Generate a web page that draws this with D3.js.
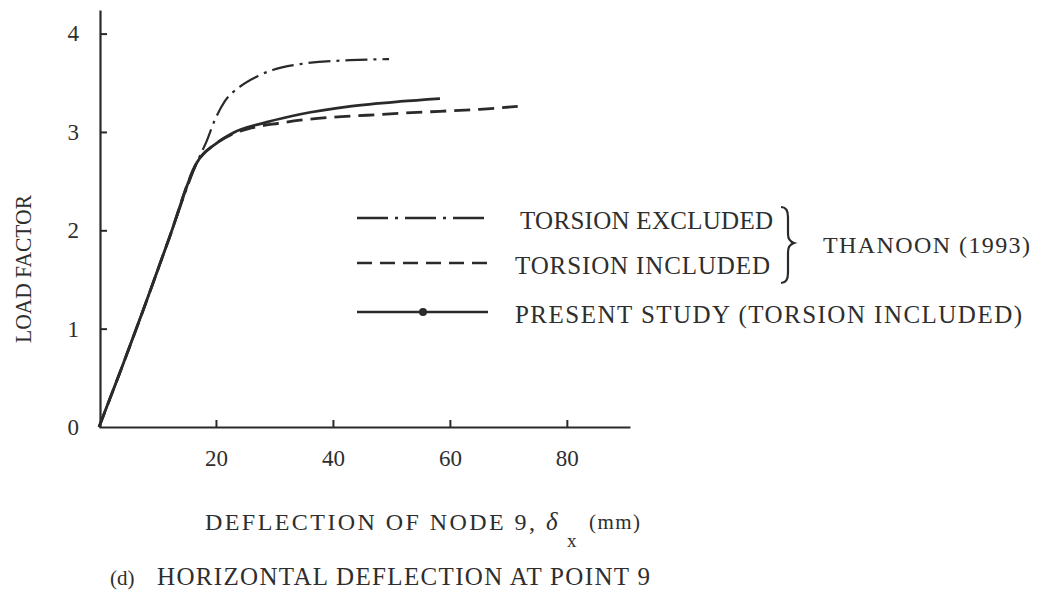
<!DOCTYPE html>
<html>
<head>
<meta charset="utf-8">
<script src="https://cdn.jsdelivr.net/npm/d3@7"></script>
<style>
  body { margin: 0; background: #fff; }
  svg text { font-family: "Liberation Serif", "DejaVu Serif", serif; fill: #2e2e2e; }
</style>
</head>
<body>
<div id="chart"></div>
<script>
// Datos (deflexión en mm, factor de carga)
const xTicks = [20, 40, 60, 80];
const yTicks = [0, 1, 2, 3, 4];

const torsionExcluded = [
  [0, 0], [4, 0.62], [8, 1.26], [12, 1.92], [16.75, 2.69], [18.5, 2.92], [19.8, 3.12],
  [21.5, 3.31], [24.1, 3.46], [27.2, 3.57], [29.7, 3.63], [34.4, 3.69], [42.9, 3.73], [49.6, 3.74]
];
const torsionIncluded = [
  [0, 0], [4, 0.62], [8, 1.26], [12, 1.92], [16.75, 2.69], [20.2, 2.89], [22.9, 2.98],
  [26, 3.04], [30.9, 3.09], [34.4, 3.12], [40, 3.15], [45.8, 3.17], [51.5, 3.19],
  [58.3, 3.21], [65.1, 3.23], [71.6, 3.26]
];
const presentStudy = [
  [0, 0], [4, 0.62], [8, 1.26], [12, 1.92], [16.75, 2.69], [20.2, 2.89], [22.9, 2.99],
  [28.7, 3.1], [34.4, 3.18], [42.9, 3.26], [51.5, 3.31], [58.3, 3.34]
];

const legendItems = [
  { label: "TORSION EXCLUDED", dash: "31,7,3,7", marker: false },
  { label: "TORSION INCLUDED", dash: "15,8", marker: false },
  { label: "PRESENT STUDY (TORSION INCLUDED)", dash: null, marker: true }
];

const width = 1041;
const height = 597;
const ink = "#2a2a2a";

const svg = d3.select("#chart").append("svg")
  .attr("width", width)
  .attr("height", height)
  .attr("viewBox", [0, 0, width, height]);

// Escalas
const x = d3.scaleLinear().domain([0, 90.8]).range([99, 630]);
const y = d3.scaleLinear().domain([0, 4.24]).range([427, 10]);

// Eje horizontal
svg.append("g")
  .attr("transform", `translate(0,${y(0)})`)
  .call(d3.axisBottom(x).tickValues(xTicks).tickSizeInner(-7).tickSizeOuter(0).tickPadding(23))
  .call(g => g.select(".domain").attr("stroke", ink).attr("stroke-width", 2.2))
  .call(g => g.selectAll(".tick line").attr("stroke", ink).attr("stroke-width", 2))
  .call(g => g.selectAll(".tick text").attr("font-size", 23).attr("fill", "#333")
    .attr("font-family", "DejaVu Sans Mono"));

// Eje vertical
svg.append("g")
  .attr("transform", `translate(${x(0) + 1},0)`)
  .call(d3.axisLeft(y).tickValues(yTicks).tickFormat(d3.format("d"))
    .tickSizeInner(-7).tickSizeOuter(0).tickPadding(21))
  .call(g => g.select(".domain").attr("stroke", ink).attr("stroke-width", 2.2))
  .call(g => g.selectAll(".tick line").attr("stroke", ink).attr("stroke-width", 2)
    .attr("display", d => d === 0 ? "none" : null))
  .call(g => g.selectAll(".tick text").attr("font-size", 23).attr("fill", "#333")
    .attr("font-family", "DejaVu Sans Mono"));

// Curvas
const line = d3.line()
  .x(d => x(d[0]))
  .y(d => y(d[1]))
  .curve(d3.curveMonotoneX);

svg.append("path")
  .datum(torsionExcluded)
  .attr("fill", "none")
  .attr("stroke", ink)
  .attr("stroke-width", 2.2)
  .attr("stroke-dasharray", "22,6,3,6")
  .attr("d", line);

svg.append("path")
  .datum(torsionIncluded)
  .attr("fill", "none")
  .attr("stroke", ink)
  .attr("stroke-width", 2.8)
  .attr("stroke-dasharray", "16,8")
  .attr("d", line);

svg.append("path")
  .datum(presentStudy)
  .attr("fill", "none")
  .attr("stroke", ink)
  .attr("stroke-width", 2.8)
  .attr("d", line);

// Leyenda
const rowY = [218, 263, 312];
const textX = [520, 515, 515];
const textLen = [253, 255, 507];

const rows = svg.append("g").selectAll("g")
  .data(legendItems)
  .join("g")
  .attr("transform", (d, i) => `translate(357,${rowY[i]})`);

rows.append("line")
  .attr("x1", 0)
  .attr("x2", 131)
  .attr("stroke", ink)
  .attr("stroke-width", 2.6)
  .attr("stroke-dasharray", d => d.dash);

rows.filter(d => d.marker).append("circle")
  .attr("cx", 66)
  .attr("r", 4)
  .attr("fill", ink);

rows.append("text")
  .attr("x", (d, i) => textX[i] - 357)
  .attr("y", 11)
  .attr("font-size", 25)
  .attr("textLength", (d, i) => textLen[i])
  .attr("lengthAdjust", "spacing")
  .text(d => d.label);

// Llave que agrupa las dos curvas de Thanoon
const brace = d3.path();
brace.moveTo(781, 207);
brace.quadraticCurveTo(788, 207, 788, 217);
brace.lineTo(788, 234);
brace.quadraticCurveTo(788, 241, 794, 243);
brace.quadraticCurveTo(788, 245, 788, 252);
brace.lineTo(788, 273);
brace.quadraticCurveTo(788, 283, 781, 283);
svg.append("path")
  .attr("d", brace.toString())
  .attr("fill", "none")
  .attr("stroke", ink)
  .attr("stroke-width", 2.2);

svg.append("text")
  .attr("x", 823)
  .attr("y", 253)
  .attr("font-size", 24)
  .attr("textLength", 207)
  .attr("lengthAdjust", "spacing")
  .text("THANOON (1993)");

// Título del eje Y
svg.append("text")
  .attr("transform", "translate(31,269) rotate(-90)")
  .attr("text-anchor", "middle")
  .attr("font-size", 23)
  .attr("textLength", 148)
  .attr("lengthAdjust", "spacingAndGlyphs")
  .text("LOAD FACTOR");

// Título del eje X
svg.append("text")
  .attr("x", 205)
  .attr("y", 530)
  .attr("font-size", 24)
  .attr("textLength", 330)
  .attr("lengthAdjust", "spacing")
  .text("DEFLECTION OF NODE 9,");

svg.append("text")
  .attr("x", 546)
  .attr("y", 530)
  .attr("font-family", "DejaVu Serif")
  .attr("font-style", "italic")
  .attr("font-size", 25)
  .text("δ");

svg.append("text")
  .attr("x", 567)
  .attr("y", 547)
  .attr("font-family", "DejaVu Sans Mono")
  .attr("font-size", 19)
  .text("x");

svg.append("text")
  .attr("x", 589)
  .attr("y", 529)
  .attr("font-size", 21)
  .attr("textLength", 51)
  .attr("lengthAdjust", "spacing")
  .text("(mm)");

// Pie de figura
svg.append("text")
  .attr("x", 110)
  .attr("y", 585)
  .attr("font-family", "DejaVu Sans Mono")
  .attr("font-size", 21)
  .text("(d)");

svg.append("text")
  .attr("x", 157)
  .attr("y", 585)
  .attr("font-size", 25)
  .attr("textLength", 493)
  .attr("lengthAdjust", "spacing")
  .text("HORIZONTAL DEFLECTION AT POINT 9");
</script>
</body>
</html>
